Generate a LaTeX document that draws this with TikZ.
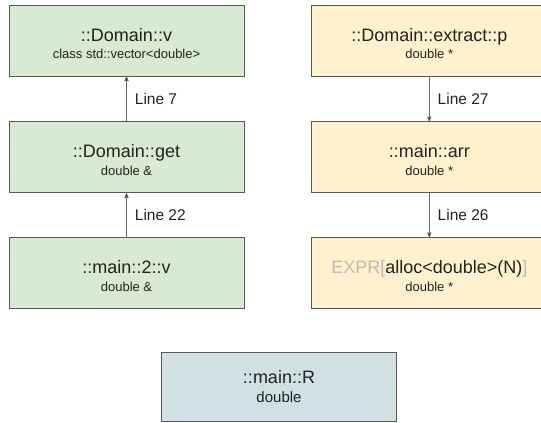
\documentclass[tikz,border=0pt]{standalone}
\usepackage{fontspec}
\setmainfont{Liberation Sans}
\usepackage{xcolor}
\usetikzlibrary{arrows}
\usetikzlibrary{positioning}

\definecolor{boxline}{HTML}{595959}
\definecolor{greenfill}{HTML}{D9EAD3}
\definecolor{yellowfill}{HTML}{FFF2CC}
\definecolor{bluefill}{HTML}{D0E0E3}
\definecolor{edgegray}{HTML}{666666}
\definecolor{inktext}{HTML}{222222}
\definecolor{exprgray}{HTML}{BBBBBB}

\newcommand{\vname}[1]{{\fontsize{18}{20}\selectfont\rule{0pt}{19pt}#1}}
\newcommand{\vtype}[1]{{\fontsize{13}{16}\selectfont #1}}

\begin{document}
\begin{tikzpicture}[->,>=stealth',x=1pt,y=1pt,auto,node distance=45pt, semithick]
 				 \tikzstyle{var}=[draw=boxline, line width=0.8pt, rectangle, minimum width=235pt, minimum height=71pt, align=center, text=inktext, inner sep=0pt, font=\fontsize{13}{17.5}\selectfont]
 				 \tikzstyle{flow}=[draw=edgegray, line width=0.8pt]
 				 \tikzstyle{lbl}=[font=\fontsize{15.5}{17}\selectfont, text=inktext, right, inner sep=0pt, xshift=8pt]
 				 \clip (0,0) rectangle (541,-423);
 					 \node[var, fill=greenfill]  (vec) at (126.5,-40.5)    {\vname{::Domain::v}\\\vtype{class std::vector<double>}};
 					 \node[var, fill=greenfill]  (get)  [below=45pt of vec]  {\vname{::Domain::get}\\\vtype{double \&}};
 					 \node[var, fill=greenfill]  (mainv)[below=44pt of get]  {\vname{::main::2::v}\\\vtype{double \&}};
 					 \node[var, fill=yellowfill] (p)    [right=67pt of vec]  {\vname{::Domain::extract::p}\\\vtype{double *}};
 					 \node[var, fill=yellowfill] (arr)  [below=45pt of p]    {\vname{::main::arr}\\\vtype{double *}};
 					 \node[var, fill=yellowfill] (expr) [below=44pt of arr]  {\vname{\textcolor{exprgray}{EXPR[}alloc<double>(N)\textcolor{exprgray}{]}}\\\vtype{double *}};
 					 \node[var, fill=bluefill, minimum height=69pt, font=\fontsize{15}{18.5}\selectfont] (R) at (279,-386.5) {{\fontsize{18}{20}\selectfont ::main::R}\\double};
 				\path[flow]
 				(get) edge node[lbl] {Line 7} (vec)
 				(mainv) edge node[lbl] {Line 22} (get)
 				(p) edge node[lbl] {Line 27} (arr)
 				(arr) edge node[lbl] {Line 26} (expr);
\end{tikzpicture}
\end{document}
